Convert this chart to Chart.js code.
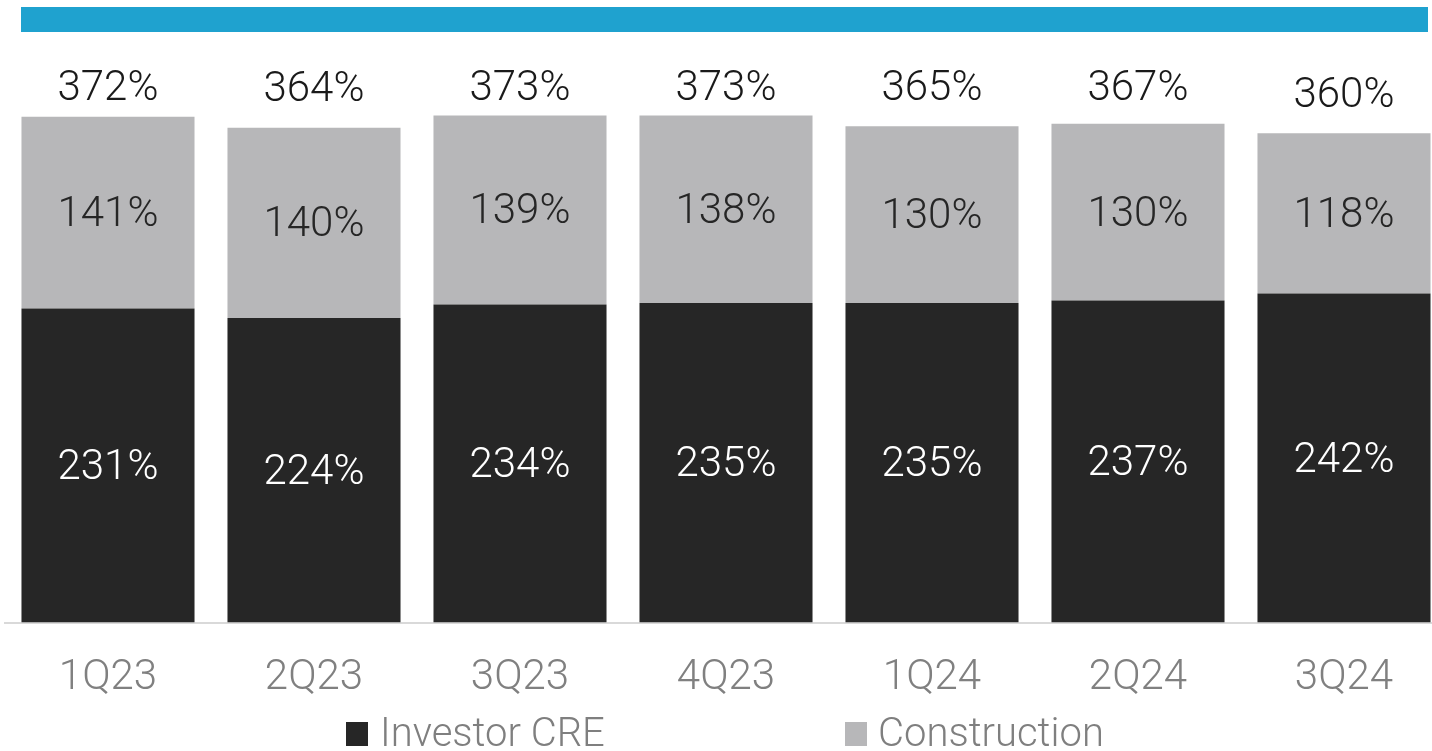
<!DOCTYPE html>
<html><head><meta charset="utf-8">
<script src="https://cdn.jsdelivr.net/npm/chart.js@4.4.1/dist/chart.umd.min.js"></script>
<style>
html,body{margin:0;padding:0;background:#fff;overflow:hidden;width:1432px;height:751px;}
#bar{position:absolute;left:21px;top:7px;width:1407px;height:25px;background:#1fa2cf;}
#wrap{position:absolute;left:0;top:0;width:1452px;height:738px;}
.leg{position:absolute;top:713px;font-family:Roboto,"Liberation Sans",sans-serif;font-weight:300;font-size:40px;line-height:40px;color:#7f7f7f;white-space:nowrap;}
.sq{position:absolute;top:722px;width:22px;height:24px;}
</style></head>
<body>
<div id="bar"></div>
<div id="wrap"><canvas id="c" width="1452" height="738"></canvas></div>
<div id="legend"></div>
<script>
const categories = ["1Q23","2Q23","3Q23","4Q23","1Q24","2Q24","3Q24"];
const investorCRE = [231,224,234,235,235,237,242];
const construction = [141,140,139,138,130,130,118];
const totals = [372,364,373,373,365,367,360];
const seriesNames = ["Investor CRE","Construction"];
const colors = ["#262626","#b7b7b9"];

const FONT = {family:'Roboto, "Liberation Sans", sans-serif', size:42, weight:'300'};

const labelPlugin = {
  id:'labels',
  afterDatasetsDraw(chart){
    const ctx = chart.ctx;
    ctx.save();
    ctx.font = `${FONT.weight} ${FONT.size}px ${FONT.family}`;
    ctx.textAlign='center'; ctx.textBaseline='middle';
    const dy = 3;
    chart.data.datasets.forEach((ds,di)=>{
      const meta = chart.getDatasetMeta(di);
      meta.data.forEach((el,i)=>{
        ctx.fillStyle = di===0 ? '#ffffff' : '#262626';
        ctx.fillText(ds.data[i]+'%', el.x, (el.y+el.base)/2 + dy);
      });
    });
    const top = chart.getDatasetMeta(chart.data.datasets.length-1);
    top.data.forEach((el,i)=>{
      ctx.fillStyle='#1a1a1a';
      ctx.fillText(totals[i]+'%', el.x, Math.max(86, el.y-40) + dy);
    });
    ctx.restore();
  }
};

new Chart(document.getElementById('c'),{
  type:'bar',
  data:{labels:categories,datasets:[
    {label:seriesNames[0],data:investorCRE,backgroundColor:colors[0]},
    {label:seriesNames[1],data:construction,backgroundColor:colors[1]}
  ]},
  options:{
    responsive:false,animation:false,
    layout:{padding:{left:5,right:5,top:38,bottom:3}},
    datasets:{bar:{barPercentage:0.84,categoryPercentage:1}},
    plugins:{legend:{display:false},tooltip:{enabled:false}},
    scales:{
      x:{stacked:true,grid:{display:false,drawTicks:false},border:{display:true,color:'#d9d9d9',width:2},
         ticks:{padding:31,color:'#808080',font:FONT}},
      y:{stacked:true,display:false,min:0,max:430}
    }
  },
  plugins:[labelPlugin]
});

const leg = document.getElementById('legend');
const pos = [[346,380],[845,878]];
seriesNames.forEach((n,i)=>{
  const s=document.createElement('div');s.className='sq';s.style.left=pos[i][0]+'px';s.style.background=colors[i];leg.appendChild(s);
  const t=document.createElement('div');t.className='leg';t.style.left=pos[i][1]+'px';t.textContent=n;leg.appendChild(t);
});
</script>
</body></html>
